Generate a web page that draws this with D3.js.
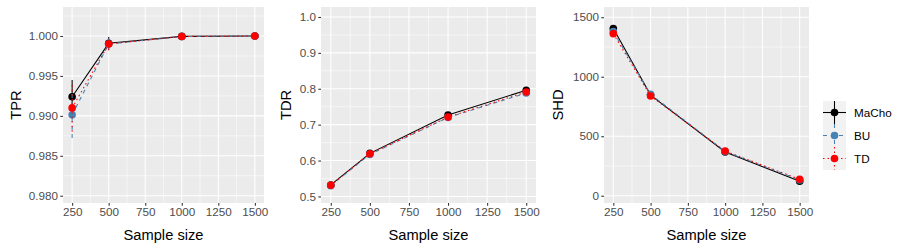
<!DOCTYPE html>
<meta charset="utf-8">
<title>MaCho vs BU vs TD</title>
<style>
body { margin: 0; background: #fff; }
svg { font-family: "Liberation Sans", Arial, sans-serif; }
.panel-bg { fill: #ebebeb; }
.grid-major line { stroke: #fff; stroke-width: 1.07px; }
.grid-minor line { stroke: #fff; stroke-width: 0.53px; }
.tick-label { fill: #4d4d4d; font-size: 11.7px; }
.axis-title { fill: #000; font-size: 14.7px; }
.legend-label { fill: #000; font-size: 11.7px; }
</style>
<svg id="chart" width="900" height="250"></svg>
<script src="https://d3js.org/d3.v7.min.js"></script>
<script>
// sample sizes on the x axis
const sampleSizes = [250, 500, 1000, 1500];
const methods = ["MaCho", "BU", "TD"];
const colours = ["#000000", "#4682b4", "#ff0000"];
const dashes = [null, "4,4", "1.5,3"];

// means per method (MaCho, BU, TD)
const tprMean = [
  [0.9924, 0.99908, 0.99995, 1.0000],
  [0.99014, 0.99900, 0.99993, 1.0000],
  [0.99100, 0.99900, 0.99994, 1.0000]
];
const tprErr = [
  [0.0021, 0.0008, 0.0001, 0.0000],
  [0.0029, 0.0008, 0.0001, 0.0000],
  [0.0030, 0.0008, 0.0001, 0.0000]
];
const tdrMean = [
  [0.532, 0.620, 0.727, 0.796],
  [0.530, 0.617, 0.720, 0.788],
  [0.531, 0.619, 0.721, 0.791]
];
const tdrErr = [
  [0.004, 0.004, 0.005, 0.005],
  [0.004, 0.004, 0.005, 0.005],
  [0.004, 0.004, 0.005, 0.005]
];
const shdMean = [
  [1405, 846, 368, 122],
  [1379, 852, 372, 133],
  [1362, 838, 375, 138]
];
const shdErr = [
  [20, 15, 15, 15],
  [20, 15, 15, 15],
  [20, 15, 15, 15]
];

// y ticks per panel
const tprTicks = [0.980, 0.985, 0.990, 0.995, 1.000];
const tdrTicks = [0.5, 0.6, 0.7, 0.8, 0.9, 1.0];
const shdTicks = [0, 500, 1000, 1500];
const xTicks = [250, 500, 750, 1000, 1250, 1500];

const panels = [
  { title: "TPR", mean: tprMean, err: tprErr, ticks: tprTicks, fmt: d3.format(".3f"),
    domain: [0.97909, 1.00363], left: 63, right: 264, titleX: 16 },
  { title: "TDR", mean: tdrMean, err: tdrErr, ticks: tdrTicks, fmt: d3.format(".1f"),
    domain: [0.4817, 1.0278], left: 321, right: 536, titleX: 286 },
  { title: "SHD", mean: shdMean, err: shdErr, ticks: shdTicks, fmt: d3.format("d"),
    domain: [-61, 1586], left: 604, right: 809, titleX: 558 }
];

const plotTop = 7, plotBottom = 203;
const svg = d3.select("#chart");

function midpoints(ticks) {
  let m = [];
  for (let i = 0; i < ticks.length - 1; i++) m.push((ticks[i] + ticks[i + 1]) / 2);
  return m;
}

panels.forEach(p => {
  let x = d3.scaleLinear().domain([187.5, 1562.5]).range([p.left, p.right]);
  let y = d3.scaleLinear().domain(p.domain).range([plotBottom, plotTop]);
  let g = svg.append("g");

  g.append("rect").attr("class", "panel-bg")
    .attr("x", p.left).attr("y", plotTop)
    .attr("width", p.right - p.left).attr("height", plotBottom - plotTop);

  // minor grid
  let step = p.ticks[1] - p.ticks[0];
  let yMinor = midpoints([p.ticks[0] - step].concat(p.ticks, [p.ticks[p.ticks.length - 1] + step]))
    .filter(v => v > p.domain[0] && v < p.domain[1]);
  let xMinor = midpoints([0].concat(xTicks, [1750])).filter(v => v > 187.5 && v < 1562.5);
  let minor = g.append("g").attr("class", "grid-minor");
  yMinor.forEach(v => minor.append("line").attr("x1", p.left).attr("x2", p.right)
    .attr("y1", y(v)).attr("y2", y(v)));
  xMinor.forEach(v => minor.append("line").attr("y1", plotTop).attr("y2", plotBottom)
    .attr("x1", x(v)).attr("x2", x(v)));

  let major = g.append("g").attr("class", "grid-major");
  p.ticks.forEach(v => major.append("line").attr("x1", p.left).attr("x2", p.right)
    .attr("y1", y(v)).attr("y2", y(v)));
  xTicks.forEach(v => major.append("line").attr("y1", plotTop).attr("y2", plotBottom)
    .attr("x1", x(v)).attr("x2", x(v)));

  // axes
  let yAxis = g.append("g").attr("transform", "translate(" + p.left + ",0)")
    .call(d3.axisLeft(y).tickValues(p.ticks).tickFormat(p.fmt).tickSize(2.7).tickPadding(2.2));
  let xAxis = g.append("g").attr("transform", "translate(0," + plotBottom + ")")
    .call(d3.axisBottom(x).tickValues(xTicks).tickFormat(d3.format("d")).tickSize(2.7).tickPadding(2.2));
  [yAxis, xAxis].forEach(a => {
    a.select(".domain").remove();
    a.attr("font-family", null).attr("font-size", null);
    a.selectAll(".tick line").attr("stroke", "#333").attr("stroke-width", 1.07);
    a.selectAll(".tick text").attr("class", "tick-label").attr("fill", null);
  });

  // titles
  g.append("text").attr("class", "axis-title")
    .attr("text-anchor", "middle")
    .attr("x", (p.left + p.right) / 2).attr("y", 240)
    .text("Sample size");
  g.append("text").attr("class", "axis-title")
    .attr("text-anchor", "middle")
    .attr("transform", "translate(" + (p.titleX + 5) + "," + ((plotTop + plotBottom) / 2) + ") rotate(-90)")
    .text(p.title);

  // series
  let line = d3.line().x((d, i) => x(sampleSizes[i])).y(d => y(d));
  methods.forEach((m, k) => {
    let s = g.append("g");
    s.append("path")
      .attr("d", line(p.mean[k]))
      .attr("fill", "none")
      .attr("stroke", colours[k])
      .attr("stroke-width", 1.07)
      .attr("stroke-dasharray", dashes[k]);
    p.mean[k].forEach((v, i) => {
      s.append("line")
        .attr("x1", x(sampleSizes[i])).attr("x2", x(sampleSizes[i]))
        .attr("y1", y(v - p.err[k][i])).attr("y2", y(v + p.err[k][i]))
        .attr("stroke", colours[k]).attr("stroke-width", 1.07)
        .attr("stroke-dasharray", dashes[k]);
      s.append("circle")
        .attr("cx", x(sampleSizes[i])).attr("cy", y(v))
        .attr("r", 3.8).attr("fill", colours[k]);
    });
  });
});

// legend
const legend = svg.append("g").attr("transform", "translate(823,101)");
const keySize = 23;
methods.forEach((m, k) => {
  let item = legend.append("g").attr("transform", "translate(0," + (k * keySize) + ")");
  item.append("rect").attr("width", keySize).attr("height", keySize).attr("fill", "#f2f2f2");
  item.append("line").attr("x1", 0).attr("x2", keySize)
    .attr("y1", keySize / 2).attr("y2", keySize / 2)
    .attr("stroke", colours[k]).attr("stroke-width", 1.07).attr("stroke-dasharray", dashes[k]);
  item.append("line").attr("x1", keySize / 2).attr("x2", keySize / 2)
    .attr("y1", 0).attr("y2", keySize)
    .attr("stroke", colours[k]).attr("stroke-width", 1.07).attr("stroke-dasharray", dashes[k]);
  item.append("circle").attr("cx", keySize / 2).attr("cy", keySize / 2)
    .attr("r", 3.8).attr("fill", colours[k]);
  item.append("text").attr("class", "legend-label")
    .attr("x", keySize + 8).attr("y", keySize / 2).attr("dy", "0.35em")
    .text(m);
});
</script>
